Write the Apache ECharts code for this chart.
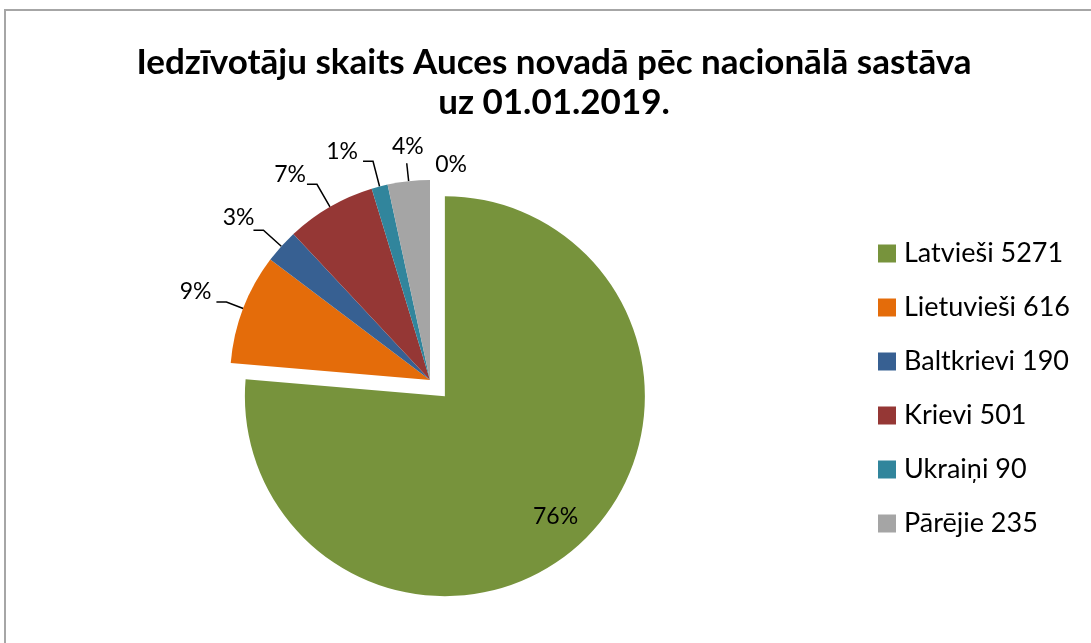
<!DOCTYPE html>
<html>
<head>
<meta charset="utf-8">
<script src="https://cdn.jsdelivr.net/npm/echarts@6/dist/echarts.min.js"></script>
<style>
  html, body { margin: 0; padding: 0; background: #fff; overflow: hidden; }
  #frame { position: absolute; left: 4px; top: 9px; width: 1200px; height: 800px; border-left: 2px solid #a6a6a6; border-top: 2px solid #a6a6a6; }
  #chart { position: absolute; left: 0; top: 0; width: 1091px; height: 643px; }
</style>
</head>
<body>
<div id="frame"></div>
<div id="chart"></div>
<script>
// iedzīvotāju skaits pēc nacionālā sastāva (the unnamed zero entry sits at 12 o'clock)
const names = ['', 'Latvieši', 'Lietuvieši', 'Baltkrievi', 'Krievi', 'Ukraiņi', 'Pārējie'];
const values = [0, 5271, 616, 190, 501, 90, 235];
const colors = ['#4f81bd', '#77933c', '#e46c0a', '#376092', '#953735', '#31859c', '#a5a5a5'];

const chart = echarts.init(document.getElementById('chart'), null, { renderer: 'canvas' });
const font = 'Lato, "Open Sans", sans-serif';

// label line lengths and small label nudges per slice
const lineLen = [20, 0, 18, 24, 26, 26, 18];
const lineLen2 = [6, 0, 10, 10, 10, 10, 0];
const nudge = [[48, 5], [41, 45], [0, -10], [6, -13], [4, -10], [0, -10], [22, -17]];

const pieData = names.map((n, i) => {
  const item = {
    name: n,
    value: values[i],
    itemStyle: { color: colors[i] },
    labelLine: { length: lineLen[i], length2: lineLen2[i] }
  };
  if (n === 'Latvieši') {
    item.selected = true;
    item.label = { position: 'inside' };
  }
  if (values[i] === 0) {
    item.labelLine.show = false;
  }
  return item;
});

chart.setOption({
  animation: false,
  title: {
    text: 'Iedzīvotāju skaits Auces novadā pēc nacionālā sastāva\nuz 01.01.2019.',
    left: 549,
    top: 38,
    textAlign: 'center',
    textStyle: { fontFamily: font, fontSize: 35, fontWeight: 'bold', color: '#000', lineHeight: 40 }
  },
  legend: {
    orient: 'vertical',
    left: 873,
    top: 235,
    data: names.filter(n => n),
    icon: 'rect',
    itemWidth: 18,
    itemHeight: 18,
    itemGap: 27,
    selectedMode: false,
    formatter: n => n + ' ' + values[names.indexOf(n)],
    textStyle: { fontFamily: font, fontSize: 27, color: '#000', lineHeight: 27, padding: [0, 0, 0, 3] }
  },
  series: [{
    type: 'pie',
    center: [430, 380],
    radius: [0, 200],
    startAngle: 90,
    clockwise: true,
    selectedMode: 'single',
    selectedOffset: 22,
    percentPrecision: 0,
    avoidLabelOverlap: false,
    emphasis: { disabled: true },
    label: {
      show: true,
      position: 'outside',
      formatter: '{d}%',
      fontFamily: font,
      fontSize: 23,
      color: '#000'
    },
    labelLine: {
      show: true,
      lineStyle: { color: '#000', width: 1.5 }
    },
    labelLayout: p => ({ dx: nudge[p.dataIndex][0], dy: nudge[p.dataIndex][1] }),
    itemStyle: { borderWidth: 0 },
    data: pieData
  }]
});
</script>
</body>
</html>
